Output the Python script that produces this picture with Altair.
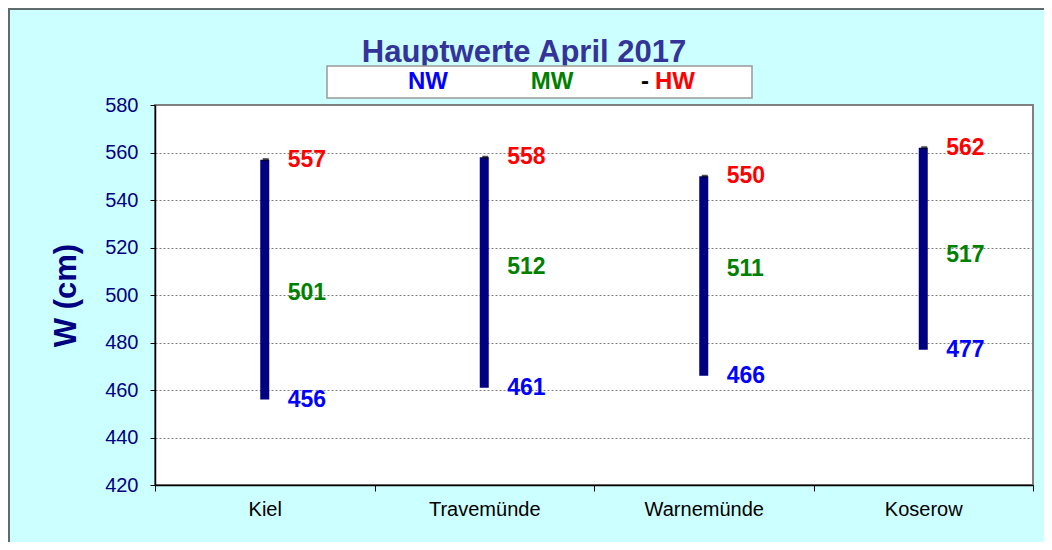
import altair as alt
import pandas as pd

stations = ["Kiel", "Travemünde", "Warnemünde", "Koserow"]
nw = [456, 461, 466, 477]
mw = [501, 512, 511, 517]
hw = [557, 558, 550, 562]

legend_labels = ["NW", "MW", "-", "HW"]
title_text = "Hauptwerte April  2017"
y_title = "W (cm)"
y_ticks = [420, 440, 460, 480, 500, 520, 540, 560, 580]

df = pd.DataFrame({"station": stations, "NW": nw, "MW": mw, "HW": hw})

FONT = "Liberation Sans"
W, H = 878, 380
PL, PT = 147, 97
TOTW, TOTH = 1036, 534

x_enc = alt.X("station:N", sort=stations, title=None,
              axis=alt.Axis(labelAngle=0, labelFontSize=20, labelColor="black",
                            labelFont=FONT, tickBand="extent", tickSize=6,
                            tickColor="black", domainColor="black", domainWidth=1.5,
                            labelPadding=8, grid=False))
y_scale = alt.Scale(domain=[420, 580], nice=False, zero=False)
y_axis = alt.Axis(values=y_ticks, labelFontSize=20, labelColor="#000080", labelFont=FONT,
                  tickSize=5, tickColor="black", domainColor="black", domainWidth=1.5,
                  labelPadding=12, grid=True, gridColor="#808080", gridDash=[2, 2],
                  gridWidth=1, title=y_title, titleFontSize=31, titleFont=FONT,
                  titleFontWeight="bold", titleColor="#000080", titlePadding=22)

base = alt.Chart(df)

bars = base.mark_rule(color="#000080", strokeWidth=9).encode(
    x=x_enc,
    y=alt.Y("NW:Q", scale=y_scale, axis=y_axis),
    y2="HW:Q",
)
caps = base.mark_tick(color="black", size=6, thickness=3, orient="horizontal", xOffset=1).encode(
    x=alt.X("station:N", sort=stations),
    y=alt.Y("HW:Q", scale=y_scale),
)

def labels(field, color):
    return base.mark_text(align="left", baseline="middle", dx=23, fontSize=23,
                          fontWeight="bold", font=FONT, color=color).encode(
        x=alt.X("station:N", sort=stations),
        y=alt.Y(f"{field}:Q", scale=y_scale),
        text=alt.Text(f"{field}:Q"),
    )

one = pd.DataFrame({"k": [0]})

# outer border
border_v = alt.Chart(one).mark_rule(color="#5f6b6b", strokeWidth=2).encode(
    x=alt.value(-PL + 1), y=alt.value(-PT), y2=alt.value(TOTH - PT))
border_h = alt.Chart(one).mark_rule(color="#5f6b6b", strokeWidth=2).encode(
    x=alt.value(-PL), x2=alt.value(TOTW - PL), y=alt.value(-PT + 1))

# title
title_layer = alt.Chart(pd.DataFrame({"t": [title_text]})).mark_text(
    fontSize=31, fontWeight="bold", font=FONT, color="#333399", align="center",
    baseline="alphabetic").encode(x=alt.value(369), y=alt.value(-43), text="t:N")

# legend box
legend_box = alt.Chart(one).mark_rect(fill="white", stroke="#999999", strokeWidth=1.5).encode(
    x=alt.value(172), x2=alt.value(597), y=alt.value(-39), y2=alt.value(-7))
legend_colors = ["#0000FF", "#008000", "black", "#FF0000"]
legend_x = [273, 397, 490, 520]
legend_layers = []
for lab, col, lx in zip(legend_labels, legend_colors, legend_x):
    legend_layers.append(
        alt.Chart(pd.DataFrame({"t": [lab]})).mark_text(
            fontSize=24, fontWeight="bold", font=FONT, color=col, align="center",
            baseline="middle").encode(x=alt.value(lx), y=alt.value(-23), text="t:N"))

chart = alt.layer(
    border_v, border_h, bars, caps,
    labels("HW", "#FF0000"), labels("MW", "#008000"), labels("NW", "#0000FF"),
    title_layer, legend_box, *legend_layers,
).properties(
    width=W, height=H,
    autosize=alt.AutoSizeParams(type="none"),
    padding={"left": PL, "top": PT, "right": TOTW - PL - W, "bottom": TOTH - PT - H},
    background="#CCFFFF",
).configure_view(
    fill="white", stroke="#808080", strokeWidth=2
)

chart.save("out.html", embed_options={"renderer": "svg", "actions": False})
